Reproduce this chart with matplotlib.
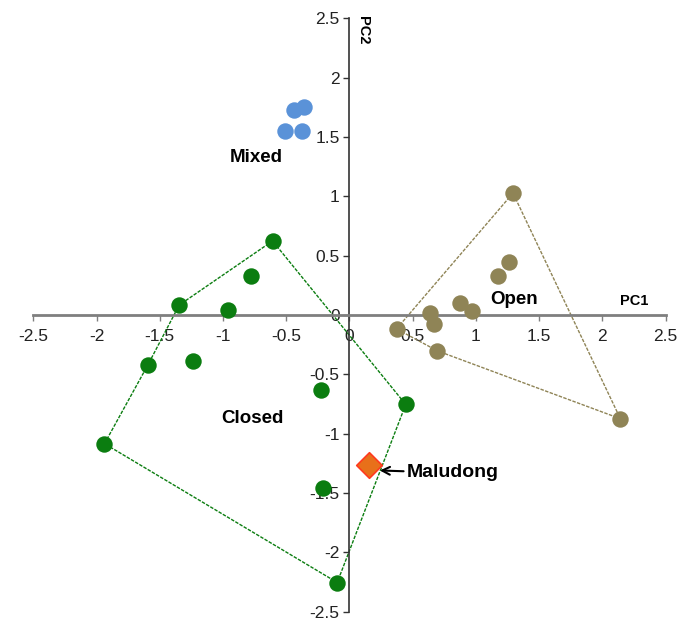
import matplotlib.pyplot as plt
from matplotlib.ticker import FixedLocator, FuncFormatter

plt.rcParams['font.family'] = ['Liberation Sans', 'DejaVu Sans']

# PCA scores by habitat group
closed_pc1 = [-1.346, -0.963, -0.608, -0.775, -1.593, -1.234, -0.226, 0.445, -1.937, -0.209, -0.097]
closed_pc2 = [0.084, 0.042, 0.624, 0.330, -0.419, -0.391, -0.634, -0.754, -1.084, -1.458, -2.254]
closed_hull_pc1 = [-1.937, -1.593, -1.346, -0.608, 0.445, -0.097, -1.937]
closed_hull_pc2 = [-1.084, -0.419, 0.084, 0.624, -0.754, -2.254, -1.084]

open_pc1 = [1.293, 1.259, 1.175, 0.876, 0.967, 0.636, 0.671, 0.372, 0.695, 2.142]
open_pc2 = [1.027, 0.448, 0.327, 0.098, 0.034, 0.014, -0.075, -0.117, -0.302, -0.874]
open_hull_pc1 = [0.372, 1.293, 2.142, 0.695, 0.372]
open_hull_pc2 = [-0.117, 1.027, -0.874, -0.302, -0.117]

mixed_pc1 = [-0.442, -0.358, -0.511, -0.376]
mixed_pc2 = [1.726, 1.754, 1.552, 1.552]

maludong_pc1 = [0.156]
maludong_pc2 = [-1.263]

ticks = [-2.5, -2, -1.5, -1, -0.5, 0, 0.5, 1, 1.5, 2, 2.5]

green = '#0b7d10'
olive = '#8f8456'
blue = '#5a92d8'

fig = plt.figure(figsize=(6.89, 6.19), dpi=100)
ax = fig.add_axes([0.0483, 0.0118, 0.9178, 0.9586])
ax.set_xlim(-2.5, 2.5)
ax.set_ylim(-2.5, 2.5)

# axes crossing at the origin
for side in ('top', 'right'):
    ax.spines[side].set_visible(False)
ax.spines['left'].set_position(('data', 0))
ax.spines['bottom'].set_position(('data', 0))
ax.spines['left'].set_color('#333333')
ax.spines['bottom'].set_color('#7f7f7f')
ax.spines['left'].set_linewidth(1.2)
ax.spines['bottom'].set_linewidth(2.0)

fmt = FuncFormatter(lambda v, p: f'{v:g}')
ax.xaxis.set_major_locator(FixedLocator(ticks))
ax.yaxis.set_major_locator(FixedLocator(ticks))
ax.xaxis.set_major_formatter(fmt)
ax.yaxis.set_major_formatter(fmt)
ax.tick_params(axis='x', direction='out', length=4, width=1, colors='#7f7f7f',
               labelcolor='#222222', labelsize=12.5, pad=6)
ax.tick_params(axis='y', direction='out', length=4, width=1, colors='#333333',
               labelcolor='#222222', labelsize=12.5, pad=3)

# convex hulls
ax.plot(closed_hull_pc1, closed_hull_pc2, color=green, lw=1.0,
        linestyle=(0, (2.5, 1)), zorder=2)
ax.plot(open_hull_pc1, open_hull_pc2, color=olive, lw=1.0,
        linestyle=(0, (2.5, 1)), zorder=2)

# groups
ax.scatter(closed_pc1, closed_pc2, s=140, color=green, zorder=3, linewidths=0)
ax.scatter(open_pc1, open_pc2, s=140, color=olive, zorder=3, linewidths=0)
ax.scatter(mixed_pc1, mixed_pc2, s=140, color=blue, zorder=3, linewidths=0)
ax.scatter(maludong_pc1, maludong_pc2, s=170, marker='D', color='#e8701a',
           edgecolors='#ff3a1e', linewidths=1.2, zorder=4)

# labels
ax.text(-0.74, 1.33, 'Mixed', fontsize=13.5, fontweight='bold', ha='center', va='center')
ax.text(1.30, 0.13, 'Open', fontsize=13.5, fontweight='bold', ha='center', va='center')
ax.text(-0.77, -0.87, 'Closed', fontsize=13.5, fontweight='bold', ha='center', va='center')
ax.text(2.25, 0.12, 'PC1', fontsize=10.5, fontweight='bold', ha='center', va='center')
ax.text(0.11, 2.40, 'PC2', fontsize=10.5, fontweight='bold', ha='center', va='center',
        rotation=-90)
ax.annotate('Maludong', xy=(0.24, -1.31), xytext=(0.45, -1.33),
            fontsize=14, fontweight='bold', ha='left', va='center',
            arrowprops=dict(arrowstyle='->', color='black', lw=1.5,
                            shrinkA=0, shrinkB=0))

fig.savefig('out.png', dpi=100)
